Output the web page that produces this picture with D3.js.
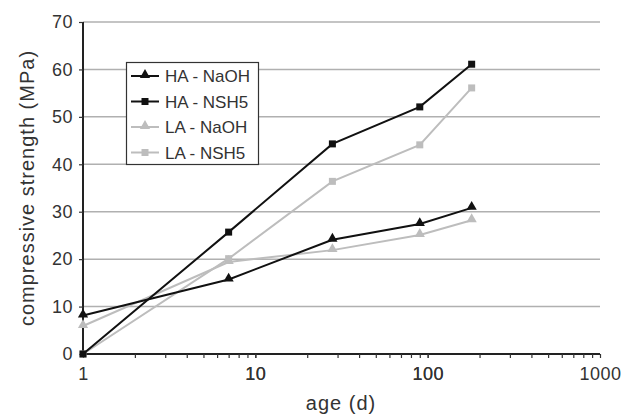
<!DOCTYPE html>
<html>
<head>
<meta charset="utf-8">
<script src="https://cdn.jsdelivr.net/npm/d3@7"></script>
<style>
  body { margin: 0; background: #fff; }
  svg { font-family: "Liberation Sans", Arial, sans-serif; }
</style>
</head>
<body>
<div id="chart"></div>
<script>
// ages in days
const ages = [1, 7, 28, 90, 180];

// compressive strength (MPa) per series
const haNaOH = [8.1, 15.7, 24.1, 27.4, 30.8];
const haNSH5 = [0, 25.7, 44.3, 52.1, 61.1];
const laNaOH = [5.9, 19.4, 21.9, 25.1, 28.2];
const laNSH5 = [0, 20.1, 36.4, 44.1, 56.1];

const seriesNames = ["HA - NaOH", "HA - NSH5", "LA - NaOH", "LA - NSH5"];
const seriesValues = [haNaOH, haNSH5, laNaOH, laNSH5];
const seriesColors = ["#111", "#111", "#bdbdbd", "#bdbdbd"];
const seriesMarkers = ["triangle", "square", "triangle", "square"];

const yTicks = [0, 10, 20, 30, 40, 50, 60, 70];
const xTicks = [1, 10, 100, 1000];

const width = 624, height = 417;
const margin = {top: 22, right: 24, bottom: 63, left: 83};

const svg = d3.select("#chart").append("svg")
    .attr("width", width)
    .attr("height", height);

const x = d3.scaleLog()
    .domain([1, 1000])
    .range([margin.left, width - margin.right]);

const y = d3.scaleLinear()
    .domain([0, 70])
    .range([height - margin.bottom, margin.top]);

// gridlines
svg.append("g")
    .selectAll("line")
    .data(yTicks.filter(d => d > 0))
    .enter().append("line")
      .attr("x1", x(1))
      .attr("x2", x(1000))
      .attr("y1", d => y(d))
      .attr("y2", d => y(d))
      .attr("stroke", "#b0b0b0")
      .attr("stroke-width", 1.5);

// y axis
const yAxis = svg.append("g")
    .attr("transform", "translate(" + x(1) + ",0)")
    .call(d3.axisLeft(y).tickValues(yTicks).tickSize(4).tickPadding(6));

// x axis, minor ticks for every integer step of each decade
const minor = [];
for (let p = 1; p < 1000; p *= 10) {
  for (let k = 1; k <= 10; k++) minor.push(p * k);
}
const xAxis = svg.append("g")
    .attr("transform", "translate(0," + y(0) + ")")
    .call(d3.axisBottom(x).tickValues(minor).tickSize(4).tickPadding(9)
      .tickFormat(d => xTicks.includes(d) ? d : ""));

[yAxis, xAxis].forEach(g => {
  g.select(".domain").attr("stroke", "#222").attr("stroke-width", 2);
  g.selectAll(".tick line").attr("stroke", "#333").attr("stroke-width", 1.2);
  g.selectAll(".tick text")
      .attr("fill", "#333")
      .style("font-size", "18px")
      .style("letter-spacing", "0.5px");
});
xAxis.select(".domain").attr("d", "M" + x(1) + ",0H" + x(1000));
yAxis.select(".domain").attr("d", "M0," + y(0) + "V" + y(70));

// axis labels
svg.append("text")
    .attr("transform", "translate(34," + y(35) + ")rotate(-90)")
    .attr("text-anchor", "middle")
    .attr("fill", "#333")
    .style("font-size", "20px")
    .style("letter-spacing", "1px")
    .text("compressive strength (MPa)");

svg.append("text")
    .attr("x", 341)
    .attr("y", 410)
    .attr("text-anchor", "middle")
    .attr("fill", "#333")
    .style("font-size", "20px")
    .style("letter-spacing", "1px")
    .text("age (d)");

const line = d3.line()
    .x(d => x(d[0]))
    .y(d => y(d[1]));

function marker(sel, type, color, cx, cy) {
  if (type === "triangle") {
    sel.append("path")
        .attr("d", d3.symbol().type(d3.symbolTriangle).size(45)())
        .attr("transform", "translate(" + cx + "," + (cy - 1) + ")")
        .attr("fill", color);
  } else {
    sel.append("rect")
        .attr("x", cx - 3.5)
        .attr("y", cy - 3.5)
        .attr("width", 7)
        .attr("height", 7)
        .attr("fill", color);
  }
}

// draw light series first so dark ones sit on top
const order = [2, 3, 0, 1];
order.forEach(i => {
  const pts = ages.map((a, j) => [a, seriesValues[i][j]]);
  const g = svg.append("g");
  g.append("path")
      .datum(pts)
      .attr("d", line)
      .attr("fill", "none")
      .attr("stroke", seriesColors[i])
      .attr("stroke-width", 2);
  pts.forEach(p => marker(g, seriesMarkers[i], seriesColors[i], x(p[0]), y(p[1])));
});

// legend
const legend = svg.append("g");
legend.append("rect")
    .attr("x", 126.5)
    .attr("y", 62.5)
    .attr("width", 132)
    .attr("height", 102)
    .attr("fill", "#fff")
    .attr("stroke", "#333")
    .attr("stroke-width", 1.2);

seriesNames.forEach((name, i) => {
  const cy = 76 + i * 25.5;
  legend.append("line")
      .attr("x1", 131)
      .attr("x2", 159)
      .attr("y1", cy)
      .attr("y2", cy)
      .attr("stroke", seriesColors[i])
      .attr("stroke-width", 2);
  marker(legend, seriesMarkers[i], seriesColors[i], 145, cy);
  legend.append("text")
      .attr("x", 165)
      .attr("y", cy + 6)
      .attr("fill", "#333")
      .style("font-size", "17px")
      .text(name);
});
</script>
</body>
</html>
